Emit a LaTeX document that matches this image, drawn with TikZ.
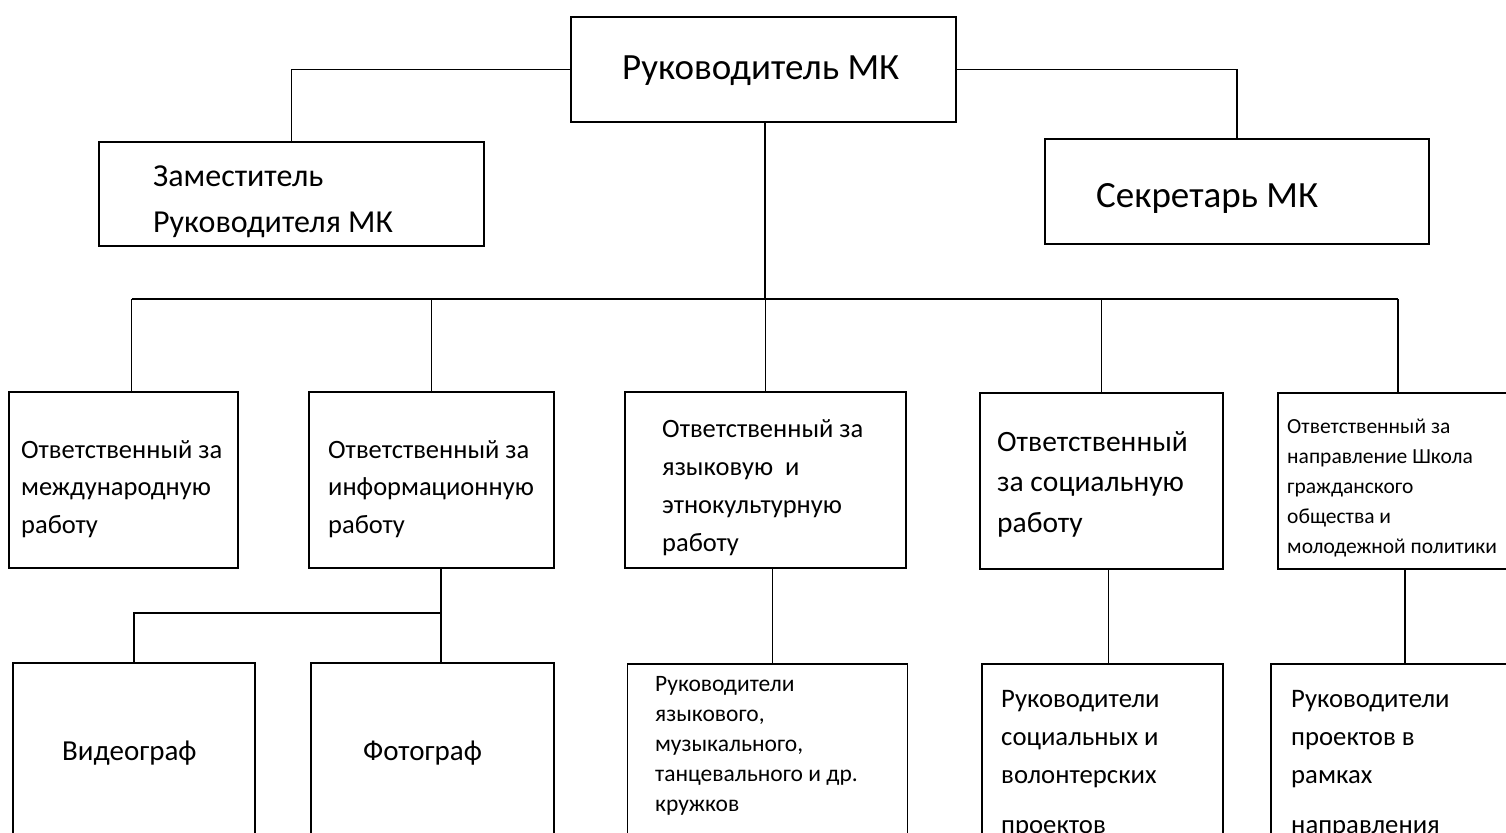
\documentclass[tikz,border=0pt]{standalone}
\usepackage{fontspec}
\setmainfont{Carlito}
\newcommand{\setfs}[2]{\fontsize{#1}{#2}\selectfont}

\begin{document}
\begin{tikzpicture}[x=1pt, y=-1pt]

    % --- Styles ---
    \tikzset{
        % Rahmen der Stellen
        post/.style={
            draw,
            line width=1.8pt,
            inner sep=0pt
        },
        % Beschriftung links im Rahmen
        postlabel/.style={
            anchor=west,
            align=left,
            inner sep=0pt
        },
        % Verbindungslinien
        link/.style={
            line width=1.3pt
        }
    }

    \useasboundingbox (0,0) rectangle (1506,832);
    \clip (0,0) rectangle (1506,832);

    % --- 1. Leitung ---
    \node[post, minimum width=385, minimum height=105] (boss) at (763.5, 69.5) {};
    \node[postlabel, font=\setfs{37}{44}] (tboss) at (622, 71) {Руководитель МК};

    \node[post, minimum width=385, minimum height=104] (dep) at (291.5, 194) {};
    \node[postlabel, font=\setfs{32}{46}] (tdep) at (153, 202) {Заместитель\\Руководителя МК};

    \node[post, minimum width=384, minimum height=105] (sec) at (1237, 191.5) {};
    \node[postlabel, font=\setfs{37}{44}] (tsec) at (1096, 198) {Секретарь МК};

    % --- 2. Ответственные ---
    \node[post, minimum width=229, minimum height=176] (b1) at (123.5, 480) {};
    \node[postlabel, font=\setfs{26.5}{37.5}] (t1) at (21, 489)
        {Ответственный за\\международную\\работу};

    \node[post, minimum width=245, minimum height=176] (b2) at (431.5, 480) {};
    \node[postlabel, font=\setfs{26.5}{37.5}] (t2) at (328, 489)
        {Ответственный за\\информационную\\работу};

    \node[post, minimum width=281, minimum height=176] (b3) at (765.5, 480) {};
    \node[postlabel, font=\setfs{26.5}{38}] (t3) at (662, 488)
        {Ответственный за\\языковую \ и\\этнокультурную\\работу};

    \node[post, minimum width=243, minimum height=176] (b4) at (1101.5, 481) {};
    \node[postlabel, font=\setfs{29.5}{40.5}] (t4) at (997, 484)
        {Ответственный\\за социальную\\работу};

    \node[post, minimum width=240, minimum height=176] (b5) at (1398, 481) {};
    \node[postlabel, font=\setfs{21.5}{30}] (t5) at (1287, 488)
        {Ответственный за\\направление Школа\\гражданского\\общества и\\молодежной политики};

    % --- 3. Руководители ---
    \node[post, minimum width=242, minimum height=197] (video) at (134, 761.5) {};
    \node[postlabel, font=\setfs{29}{35}] (tvideo) at (62, 753) {Видеограф};

    \node[post, minimum width=243, minimum height=197] (foto) at (432.5, 761.5) {};
    \node[postlabel, font=\setfs{29}{35}] (tfoto) at (363, 753) {Фотограф};

    \node[post, minimum width=280, minimum height=196] (c3) at (767.5, 762) {};
    \node[postlabel, font=\setfs{23.5}{30}] (tc3) at (655, 746)
        {Руководители\\языкового,\\музыкального,\\танцевального и др.\\кружков};

    \node[post, minimum width=241, minimum height=196] (c4) at (1102.5, 762) {};
    \node[postlabel, font=\setfs{26.7}{38}, anchor=north west] (tc4) at (1001, 690)
        {Руководители\\социальных и\\волонтерских\\[12pt]проектов};

    \node[post, minimum width=250, minimum height=196] (c5) at (1396, 762) {};
    \node[postlabel, font=\setfs{26.7}{38}, anchor=north west] (tc5) at (1291, 690)
        {Руководители\\проектов в\\рамках\\[12pt]направления};

    % --- 4. Linien ---
    \draw[link] (boss.west) -| (dep.north);
    \draw[link] (boss.east) -| (sec.north);

    \coordinate (bus) at (765, 299);
    \draw[link] (boss.south -| bus) -- (bus);
    \draw[link] ([xshift=8]b1.north |- bus) -- (b5.north |- bus);
    \draw[link] ([xshift=8]b1.north) -- ([xshift=8]b1.north |- bus);
    \foreach \n in {b2,b3,b4,b5}
        \draw[link] (\n.north) -- (\n.north |- bus);

    % Informationsarbeit
    \coordinate (fork) at (441, 613);
    \draw[link] (b2.south -| fork) -- (foto.north -| fork);
    \draw[link] (fork) -| (video.north);

    \foreach \a/\b in {b3/c3,b4/c4,b5/c5}
        \draw[link] ([xshift=7]\a.south) -- ([xshift=7]\a.south |- \b.north);

\end{tikzpicture}
\end{document}
